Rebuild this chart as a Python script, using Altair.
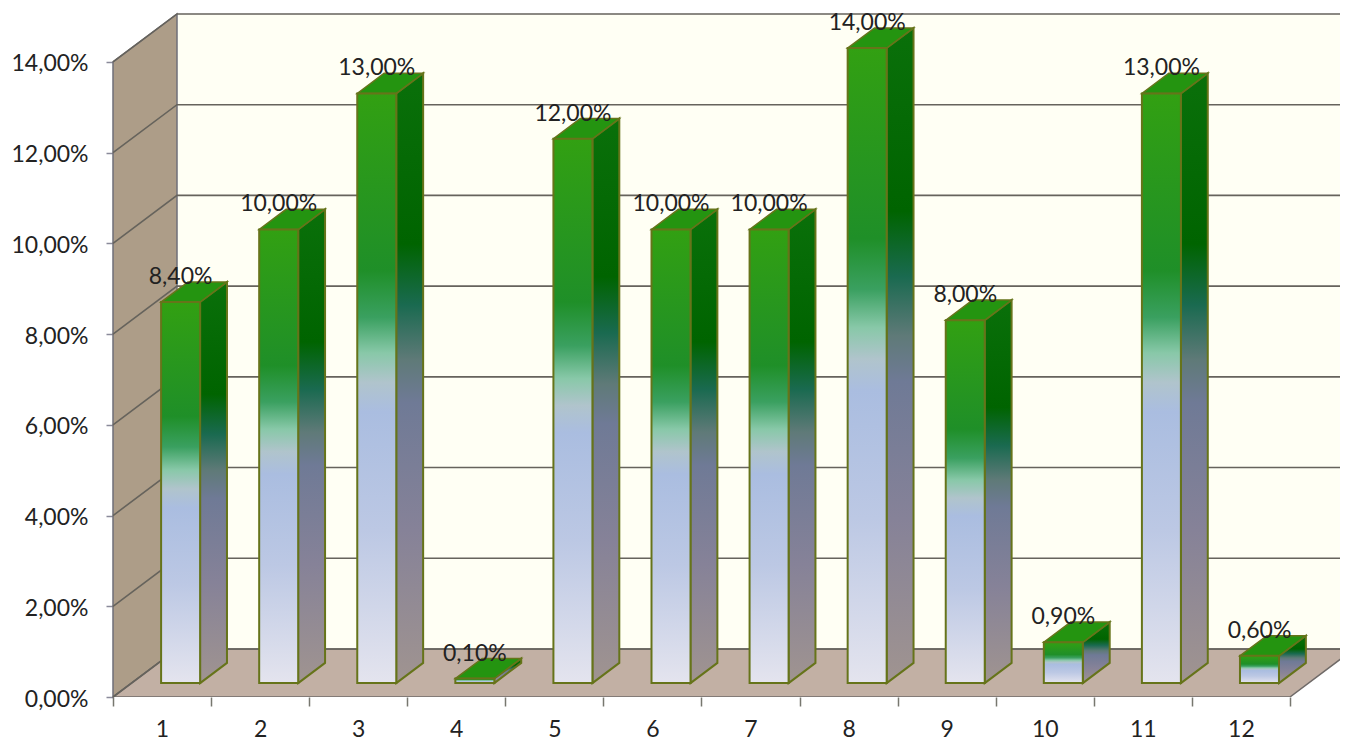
import altair as alt
import pandas as pd

# --- chart values ---
categories = [1, 2, 3, 4, 5, 6, 7, 8, 9, 10, 11, 12]
values = [8.4, 10.0, 13.0, 0.1, 12.0, 10.0, 10.0, 14.0, 8.0, 0.9, 13.0, 0.6]
grid_values = [0, 2, 4, 6, 8, 10, 12, 14]

# --- pseudo-3D projection, in scale units ---
PX_X, PX_Y = 98.08, 45.36
W, H = 1227, 683
XMAX, YMAX = W / PX_X, H / PX_Y
DX, DY = 64 / PX_X, 48 / PX_Y
BAR_W = 39 / PX_X
D0, D1 = 0.29, 0.71
FONT = "Lato"
STROKE = "#66741a"


def pct(v):
    return f"{v:.2f}".replace(".", ",") + "%"


front, side, top, labels = [], [], [], []
for c, v in zip(categories, values):
    cx = c - 0.5
    x0 = cx + D0 * DX - BAR_W / 2
    x1 = x0 + BAR_W
    b = D0 * DY
    t = b + v
    sx, sy = (D1 - D0) * DX, (D1 - D0) * DY
    front.append(dict(c=c, x=x0, x2=x1, y=b, y2=t))
    side += [dict(c=c, x=x1, y=b, y2=t), dict(c=c, x=x1 + sx, y=b + sy, y2=t + sy)]
    top += [
        dict(c=c, x=x0, y=t, y2=t),
        dict(c=c, x=x0 + sx, y=t, y2=t + sy),
        dict(c=c, x=x1, y=t, y2=t + sy),
        dict(c=c, x=x1 + sx, y=t + sy, y2=t + sy),
    ]
    labels.append(dict(x=(x0 + x1) / 2, y=t + 25 / PX_Y, t=pct(v)))

X = alt.X(
    "x:Q",
    scale=alt.Scale(domain=[0, XMAX], nice=False, zero=False),
    title=None,
    axis=alt.Axis(
        values=[i / 2 for i in range(25)],
        labelExpr="datum.value % 1 == 0.5 ? '' + (floor(datum.value) + 1) : ''",
        tickOpacity={"condition": {"test": "datum.value % 1 == 0", "value": 1}, "value": 0},
        tickSize=9, tickColor="#77776f", tickWidth=1.5, domain=False, grid=False,
        labelFont=FONT, labelFontSize=23, labelColor="#222222", labelPadding=12,
        labelOverlap=False, labelBound=False, labelFlush=False,
    ),
)
Y = alt.Y(
    "y:Q",
    scale=alt.Scale(domain=[0, YMAX], nice=False, zero=False),
    title=None,
    axis=alt.Axis(
        values=grid_values,
        labelExpr="replace(format(datum.value, '.2f'), '.', ',') + '%'",
        tickSize=7, tickColor="#8a8a9a", tickWidth=1.5, domain=False, grid=False,
        labelFont=FONT, labelFontSize=23, labelColor="#222222", labelPadding=18,
        labelOverlap=False, labelBound=False, labelOffset=2,
    ),
)
Y2 = alt.Y2("y2:Q")


def grad(stops):
    return alt.Gradient(
        gradient="linear", x1=0, y1=0, x2=0, y2=1,
        stops=[alt.GradientStop(offset=o, color=k) for o, k in stops],
    )


front_grad = grad([
    (0, "#32a012"), (0.30, "#1f8f28"), (0.38, "#3aa060"), (0.44, "#88c8a8"),
    (0.49, "#b0c4cc"), (0.54, "#aabde0"), (0.74, "#bcc8e4"), (1, "#e4e4ee"),
])
side_grad = grad([
    (0, "#0a700a"), (0.28, "#006400"), (0.38, "#1a6a50"), (0.47, "#5f7a78"),
    (0.54, "#6f7a96"), (0.75, "#868298"), (1, "#a09490"),
])

back_wall = alt.Chart(pd.DataFrame([dict(x=DX, x2=XMAX, y=DY, y2=14 + DY)])).mark_rect(
    fill="#fffff4"
).encode(x=X, x2="x2:Q", y=Y, y2=Y2)

left_wall = alt.Chart(pd.DataFrame([
    dict(x=0, y=0, y2=14), dict(x=DX, y=DY, y2=14 + DY),
])).mark_area(fill="#ad9d88", stroke="#6f6f78", strokeWidth=1.5).encode(x=X, y=Y, y2=Y2)

floor = alt.Chart(pd.DataFrame([
    dict(x=0, y=0, y2=0), dict(x=DX, y=0, y2=DY),
    dict(x=12, y=0, y2=DY), dict(x=12 + DX, y=DY, y2=DY),
])).mark_area(fill="#c2b0a4", stroke="#6f6a68", strokeWidth=1.5, clip=True).encode(x=X, y=Y, y2=Y2)

grid_rows = []
for g in grid_values:
    grid_rows += [
        dict(g=g, i=0, x=0, y=g),
        dict(g=g, i=1, x=DX, y=g + DY),
        dict(g=g, i=2, x=XMAX, y=g + DY),
    ]
grid = alt.Chart(pd.DataFrame(grid_rows)).mark_line(
    color="#66635c", strokeWidth=1.6
).encode(x=X, y=Y, detail="g:N", order="i:O")

sides = alt.Chart(pd.DataFrame(side)).mark_area(
    fill=side_grad, stroke=STROKE, strokeWidth=2
).encode(x=X, y=Y, y2=Y2, detail="c:N")

tops = alt.Chart(pd.DataFrame(top)).mark_area(
    fill="#249410", stroke=STROKE, strokeWidth=1.5
).encode(x=X, y=Y, y2=Y2, detail="c:N")

fronts = alt.Chart(pd.DataFrame(front)).mark_rect(
    fill=front_grad, stroke=STROKE, strokeWidth=2
).encode(x=X, x2="x2:Q", y=Y, y2=Y2)

texts = alt.Chart(pd.DataFrame(labels)).mark_text(
    font=FONT, fontSize=23, color="#222222", baseline="middle", align="center"
).encode(x=X, y=Y, text="t:N")

chart = alt.layer(
    back_wall, left_wall, floor, grid, sides, tops, fronts, texts
).properties(
    width=W, height=H,
    padding={"left": 105, "top": 6, "right": 0, "bottom": 45},
    autosize=alt.AutoSizeParams(type="none"),
    background="white",
).configure_view(stroke=None)

chart.save("out.html", embed_options={"renderer": "svg", "actions": False})
